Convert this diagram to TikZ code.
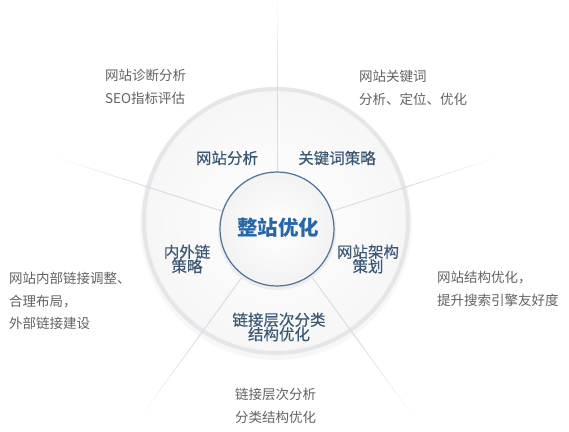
\documentclass[tikz,border=0pt]{standalone}
\usepackage{fontspec}
\newfontfamily\cjk{Noto Sans CJK SC}
\newfontfamily\cjkmed{Noto Sans CJK SC}[FakeBold=0.4]
\usetikzlibrary{positioning}
\definecolor{hubText}{HTML}{2767A8}
\definecolor{sectorCol}{HTML}{3D5874}
\definecolor{noteCol}{HTML}{626262}
\definecolor{rimCol}{HTML}{E4E6E9}
\definecolor{ringCol}{HTML}{4F7399}
\definecolor{rayCol}{HTML}{D8DBDF}
\tikzset{
  hubTitle/.style={font=\cjk\bfseries\fontsize{20.5pt}{22pt}\selectfont,text=hubText,inner sep=0pt},
  sectorText/.style={font=\cjkmed\fontsize{15.5pt}{14.5pt}\selectfont,text=sectorCol,align=center,inner sep=0pt},
  outerNote/.style={font=\cjk\fontsize{13.5pt}{22.5pt}\selectfont,text=noteCol,align=left,anchor=west,inner sep=0pt},
  ray/.style={rayCol,line width=0.9pt},
}

\begin{document}
\begin{tikzpicture}[x=1pt,y=1pt]
  % --- Definitions ---
  \def\hubR{57}     % inner circle radius
  \def\diskR{134}   % outer disk radius
  \def\rayStep{9.5} % fading step of the rays
  \useasboundingbox (0,0) rectangle (569,431);
  \coordinate (C) at (277,202);
  \coordinate (D) at (276,210);

  % --- 1. Outer disk ---
  \fill[gray!6] (D) ++(0,-3) circle (\diskR+2);
  \shade[inner color=white, outer color=gray!7] (D) circle (\diskR);
  \draw[rimCol, line width=4pt] (D) circle (\diskR-2);

  % --- 2. Divider rays ---
  \foreach \a in {18,90,162,234,306} {%
    \draw[ray] (C) ++(\a:{\hubR}) -- ++(\a:{\diskR-\hubR});
    \foreach \i [evaluate=\i as \op using 1-\i/10] in {0,...,9}
      \draw[ray, opacity=\op] (C) ++(\a:{\diskR+\i*\rayStep}) -- ++(\a:{\rayStep});
  }

  % --- 3. Hub ---
  \fill[gray!14] (C) ++(0,-2) circle (\hubR+2);
  \shade[inner color=white, outer color=gray!10] (C) circle (\hubR);
  \draw[ringCol, line width=1.2pt] (C) circle (\hubR);
  \node[hubTitle] (hub) at (278,203) {整站优化};

  % --- 4. Sector labels ---
  \node[sectorText] (analysis) at (227,273) {网站分析};
  \node[sectorText] (keywords) at (337,273) {关键词策略};
  \node[sectorText] (links) at (187,172) {内外链\\策略};
  \node[sectorText] (arch) at (368,172) {网站架构\\策划};
  \node[sectorText] (layers) at (279,104) {链接层次分类\\结构优化};

  % --- 5. Outer notes ---
  \node[outerNote] (diagNote) at (105,344) {网站诊断分析\\SEO指标评估};
  \node[outerNote] (kwNote) at (359,343) {网站关键词\\分析、定位、优化};
  \node[outerNote] (linkNote) at (9,130) {网站内部链接调整、\\合理布局，\\外部链接建设};
  \node[outerNote] (archNote) at (437,142) {网站结构优化，\\提升搜索引擎友好度};
  \node[outerNote] (layerNote) at (235,25) {链接层次分析\\分类结构优化};
\end{tikzpicture}
\end{document}
